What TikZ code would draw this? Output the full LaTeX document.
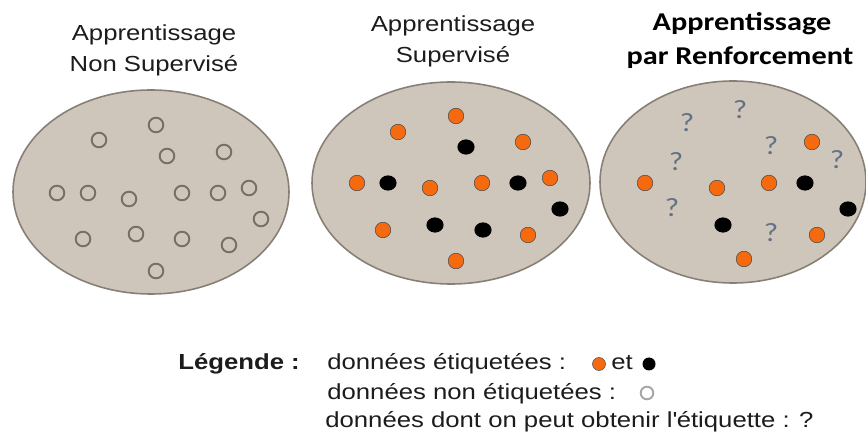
\documentclass[tikz,border=0pt]{standalone}
\usepackage{fontspec}
\setmainfont{Liberation Sans}[FakeStretch=1.18]
\newfontfamily\calib{Carlito}[FakeStretch=1.18]
\usepackage{tikz}

\definecolor{fond}{RGB}{207,198,187}
\definecolor{bord}{RGB}{135,127,118}
\definecolor{orangept}{RGB}{245,105,15}
\definecolor{grispt}{RGB}{120,110,102}
\definecolor{bleugris}{RGB}{98,114,134}
\definecolor{texte}{RGB}{28,28,28}

\tikzset{
  ens/.style={draw=bord, line width=0.9pt, fill=fond},
  titre/.style={anchor=base, inner sep=0pt, text=texte, font=\fontsize{12.4}{15}\selectfont},
  titregras/.style={anchor=base, inner sep=0pt, text=black, font=\calib\bfseries\fontsize{14.6}{17}\selectfont},
  legende/.style={anchor=base west, inner sep=0pt, text=texte, font=\fontsize{12.4}{15}\selectfont},
  vide/.style={draw=grispt, line width=1.1pt},
  orange/.style={draw=black!70, line width=0.3pt, fill=orangept},
  noir/.style={fill=black},
  qm/.style={inner sep=0pt, text=bleugris, font=\calib\fontsize{15}{17}\selectfont}
}

\begin{document}
\begin{tikzpicture}[x=0.02cm,y=-0.02cm]
\useasboundingbox (0,0) rectangle (866,435);
%draw sets:
\draw[ens] (151,192) ellipse [x radius=138, y radius=102];
\draw[ens] (451,183) ellipse [x radius=139, y radius=101];
\draw[ens] (733,182) ellipse [x radius=133, y radius=101];
%draw titles:
\node[titre] (nsa) at (154,41) {Apprentissage};
\node[titre] (nsb) at (154,72) {Non Supervisé};
\node[titre] (sa) at (453,32) {Apprentissage};
\node[titre] (sb) at (453,63) {Supervisé};
\node[titregras] (ra) at (742,31) {Apprentissage};
\node[titregras] (rb) at (740,65) {par Renforcement};
%unlabelled data:
\foreach \x/\y in {99/140,156/125,167/156,224/152,57/193,88/193,129/199,182/193,
  218/193,249/188,261/219,83/239,136/234,182/239,229/245,156/271}
  \draw[vide] (\x,\y) circle [radius=7.3];
%labelled data:
\foreach \x/\y in {398/132,456/116,523/142,357/183,430/188,482/183,550/178,
  383/230,528/235,456/261,645/183,717/188,769/183,812/142,817/235,744/259}
  \draw[orange] (\x,\y) circle [radius=7.8];
\foreach \x/\y in {466/147,388/183,518/183,560/209,435/225,483/230,
  805/183,848/209,723/225}
  \fill[noir] (\x,\y) ellipse [x radius=8.6, y radius=7.6];
%question marks:
\foreach \x/\y [count=\i] in {687/123,740/110,676/162,771/146,837/160,672/208,771/233}
  \node[qm] (q\i) at (\x,\y) {?};
%legend:
\node[legende, font=\bfseries\fontsize{12.4}{15}\selectfont] (leg) at (178,370) {Légende :};
\node[legende] (l1) at (327,370) {données étiquetées :};
\draw[orange] (599,364) circle [radius=6.5];
\node[legende] (et) at (611,370) {et};
\fill[noir] (649,364) circle [radius=6.5];
\node[legende] (l2) at (327,400) {données non étiquetées :};
\draw[draw=black!35, line width=1.1pt] (647,393) circle [radius=6.3];
\node[legende] (l3) at (325,428) {données dont on peut obtenir l\textquotesingle étiquette : ?};
\end{tikzpicture}
\end{document}
